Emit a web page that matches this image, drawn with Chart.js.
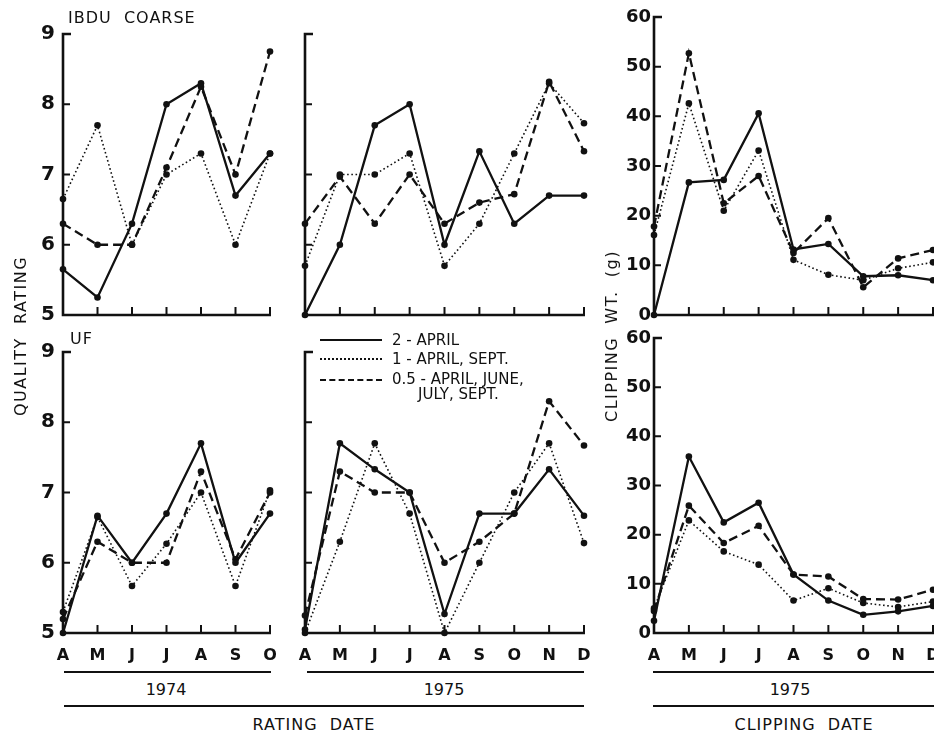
<!DOCTYPE html>
<html>
<head>
<meta charset="utf-8">
<script src="https://cdn.jsdelivr.net/npm/chart.js@4/dist/chart.umd.min.js"></script>
<style>
  html, body { margin:0; padding:0; background:#fff; overflow:hidden; }
  body { width:934px; height:736px; position:relative; font-family:"DejaVu Sans", sans-serif; color:#111; }
  canvas { position:absolute; }
  .t { position:absolute; white-space:nowrap; color:#111; line-height:1; }
  .hl { position:absolute; height:2px; background:#111; }
  .rot { position:absolute; transform-origin:center center; transform:translate(-50%,-50%) rotate(-90deg); white-space:nowrap; line-height:1; letter-spacing:1.5px; font-size:16px; }
  .cen { transform:translate(-50%,-50%); }
  .lg { position:absolute; width:62px; height:0; }
</style>
</head>
<body>
<canvas id="p1"></canvas>
<canvas id="p2"></canvas>
<canvas id="p3"></canvas>
<canvas id="p4"></canvas>
<canvas id="p5"></canvas>
<canvas id="p6"></canvas>

<div class="t" style="left:68px;top:10px;font-size:16px;letter-spacing:1px;">IBDU&nbsp; COARSE</div>
<div class="t" style="left:70px;top:331px;font-size:16px;letter-spacing:1px;">UF</div>

<div class="rot" style="left:21px;top:336px;">QUALITY&nbsp;&nbsp;RATING</div>
<div class="rot" style="left:612px;top:336px;">CLIPPING&nbsp;&nbsp;WT.&nbsp;&nbsp;(g)</div>

<!-- legend -->
<div class="lg" style="left:320px;top:339px;border-top:2px solid #111;"></div>
<div class="lg" style="left:320px;top:358px;border-top:2px dotted #111;"></div>
<div class="lg" style="left:320px;top:379px;border-top:2px dashed #111;"></div>
<div class="t" style="left:392px;top:333px;font-size:15px;">2 - APRIL</div>
<div class="t" style="left:392px;top:352px;font-size:15px;">1 - APRIL, SEPT.</div>
<div class="t" style="left:392px;top:372px;font-size:15px;">0.5 - APRIL, JUNE,</div>
<div class="t" style="left:418px;top:387px;font-size:15px;">JULY, SEPT.</div>

<!-- bottom annotations -->
<div class="hl" style="left:64px;width:207px;top:671px;"></div>
<div class="hl" style="left:307px;width:277px;top:671px;"></div>
<div class="hl" style="left:653px;width:281px;top:671px;"></div>
<div class="t cen" style="left:166px;top:690px;font-size:16px;">1974</div>
<div class="t cen" style="left:444px;top:690px;font-size:16px;">1975</div>
<div class="t cen" style="left:790px;top:690px;font-size:16px;">1975</div>
<div class="hl" style="left:64px;width:520px;top:705px;"></div>
<div class="hl" style="left:653px;width:281px;top:705px;"></div>
<div class="t cen" style="left:314px;top:725px;font-size:16px;letter-spacing:1px;">RATING&nbsp; DATE</div>
<div class="t cen" style="left:804px;top:725px;font-size:16px;letter-spacing:1px;">CLIPPING&nbsp; DATE</div>

<script>
// ---- categories ----
const months74 = ['A','M','J','J','A','S','O'];
const months75 = ['A','M','J','J','A','S','O','N','D'];

// ---- IBDU coarse, quality rating, 1974 ----
const ibdu74_rate2  = [5.65, 5.25, 6.3, 8.0, 8.3, 6.7, 7.3];
const ibdu74_rate1  = [6.65, 7.7, 6.0, 7.0, 7.3, 6.0, 7.3];
const ibdu74_rate05 = [6.3, 6.0, 6.0, 7.1, 8.25, 7.0, 8.75];

// ---- IBDU coarse, quality rating, 1975 ----
const ibdu75_rate2  = [5.0, 6.0, 7.7, 8.0, 6.0, 7.33, 6.3, 6.7, 6.7];
const ibdu75_rate1  = [5.7, 7.0, 7.0, 7.3, 5.7, 6.3, 7.3, 8.3, 7.73];
const ibdu75_rate05 = [6.3, 6.97, 6.3, 7.0, 6.3, 6.6, 6.72, 8.32, 7.33];

// ---- UF, quality rating, 1974 ----
const uf74_rate2  = [5.0, 6.67, 6.0, 6.7, 7.7, 6.0, 6.7];
const uf74_rate1  = [5.3, 6.65, 5.67, 6.27, 7.0, 5.67, 7.03];
const uf74_rate05 = [5.2, 6.3, 6.0, 6.0, 7.3, 6.05, 7.0];

// ---- UF, quality rating, 1975 ----
const uf75_rate2  = [5.05, 7.7, 7.33, 7.0, 5.27, 6.7, 6.7, 7.33, 6.67];
const uf75_rate1  = [5.0, 6.3, 7.7, 6.7, 5.0, 6.0, 7.0, 7.7, 6.28];
const uf75_rate05 = [5.25, 7.3, 7.0, 7.0, 6.0, 6.3, 6.7, 8.3, 7.67];

// ---- IBDU coarse, clipping wt (g), 1975 ----
const ibdu_clip2  = [0, 26.7, 27.2, 40.6, 13.2, 14.3, 7.8, 8.0, 7.0];
const ibdu_clip1  = [16.1, 42.6, 21.0, 33.1, 11.1, 8.1, 7.0, 9.4, 10.6];
const ibdu_clip05 = [17.8, 52.7, 22.5, 28.0, 12.5, 19.5, 5.6, 11.4, 13.1];

// ---- UF, clipping wt (g), 1975 ----
const uf_clip2  = [2.5, 35.9, 22.5, 26.5, 11.9, 6.6, 3.7, 4.4, 5.5];
const uf_clip1  = [5.0, 22.9, 16.6, 13.9, 6.6, 9.1, 6.1, 5.3, 6.4];
const uf_clip05 = [4.5, 25.9, 18.3, 21.8, 11.9, 11.5, 6.9, 6.8, 8.8];

const INK = '#111';
Chart.defaults.font.family = '"DejaVu Sans", sans-serif';
Chart.defaults.color = INK;

function series(d2, d1, d05) {
  const base = { borderColor: INK, pointBackgroundColor: INK, pointBorderColor: INK,
                 pointBorderWidth: 0, pointRadius: 3.3, tension: 0, clip: false, fill: false };
  return [
    Object.assign({}, base, { label: '2 - APRIL', data: d2, borderWidth: 2.3 }),
    Object.assign({}, base, { label: '1 - APRIL, SEPT.', data: d1, borderWidth: 1.6, borderDash: [1.6, 2.6] }),
    Object.assign({}, base, { label: '0.5 - APRIL, JUNE, JULY, SEPT.', data: d05, borderWidth: 2.3, borderDash: [9, 5] })
  ];
}

const axesPlugin = {
  id: 'inkAxes',
  beforeDatasetsDraw(chart) {
    const { ctx, chartArea: a, scales: { x, y } } = chart;
    ctx.save();
    ctx.strokeStyle = INK;
    ctx.lineWidth = 2.6;
    ctx.lineCap = 'butt';
    ctx.lineJoin = 'miter';
    ctx.beginPath();
    ctx.moveTo(a.left + 8, a.top);
    ctx.lineTo(a.left, a.top);
    ctx.lineTo(a.left, a.bottom);
    ctx.lineTo(a.right + 1, a.bottom);
    ctx.stroke();
    ctx.lineWidth = 2;
    ctx.beginPath();
    x.ticks.forEach((t, i) => {
      if (i === 0) return;
      const px = x.getPixelForTick(i);
      ctx.moveTo(px, a.bottom);
      ctx.lineTo(px, a.bottom - 8);
    });
    y.ticks.forEach(t => {
      if (t.value > y.min && t.value < y.max) {
        const py = y.getPixelForValue(t.value);
        ctx.moveTo(a.left, py);
        ctx.lineTo(a.left + 7, py);
      }
    });
    ctx.stroke();
    ctx.restore();
  }
};

function panel(id, box, labels, datasets, yMin, yMax, step, yLabels, xLabels, yFont, yPad) {
  const cv = document.getElementById(id);
  cv.width = box.W; cv.height = box.H;
  cv.style.left = box.L + 'px'; cv.style.top = box.T + 'px';
  cv.style.width = box.W + 'px'; cv.style.height = box.H + 'px';
  new Chart(cv, {
    type: 'line',
    data: { labels: labels, datasets: datasets },
    options: {
      responsive: false, animation: false, devicePixelRatio: 1,
      layout: { padding: { top: box.pt, right: box.pr, left: 0, bottom: 0 } },
      plugins: { legend: { display: false }, tooltip: { enabled: false } },
      scales: {
        x: {
          type: 'category', offset: false,
          grid: { display: false, drawTicks: false },
          border: { display: false },
          ticks: { display: xLabels, autoSkip: false, maxRotation: 0, padding: 13,
                   font: { size: 16, weight: 'bold' }, color: INK },
          afterFit(s) { s.height = box.Hx; s.paddingLeft = 0; s.paddingRight = 0; }
        },
        y: {
          min: yMin, max: yMax,
          grid: { display: false, drawTicks: false },
          border: { display: false },
          ticks: { display: yLabels, stepSize: step, padding: yPad, font: { size: yFont, weight: 'bold' }, color: INK },
          afterFit(s) { s.width = box.Wy; s.paddingTop = 0; s.paddingBottom = 0; }
        }
      }
    },
    plugins: [axesPlugin]
  });
}

// top row
panel('p1', { L: 0,   T: 0,   W: 280, H: 323, pt: 34, pr: 10, Wy: 63, Hx: 8 },
      months74, series(ibdu74_rate2, ibdu74_rate1, ibdu74_rate05), 5, 9, 1, true, false, 20, 8);
panel('p2', { L: 290, T: 0,   W: 304, H: 323, pt: 34, pr: 10, Wy: 15, Hx: 8 },
      months75, series(ibdu75_rate2, ibdu75_rate1, ibdu75_rate05), 5, 9, 1, false, false, 20, 8);
panel('p3', { L: 600, T: 0,   W: 343, H: 320, pt: 17, pr: 10, Wy: 54, Hx: 5 },
      months75, series(ibdu_clip2, ibdu_clip1, ibdu_clip05), 0, 60, 10, true, false, 18, 3);
// bottom row
panel('p4', { L: 0,   T: 330, W: 280, H: 338, pt: 22, pr: 10, Wy: 63, Hx: 35 },
      months74, series(uf74_rate2, uf74_rate1, uf74_rate05), 5, 9, 1, true, true, 20, 8);
panel('p5', { L: 290, T: 330, W: 304, H: 338, pt: 22, pr: 10, Wy: 15, Hx: 35 },
      months75, series(uf75_rate2, uf75_rate1, uf75_rate05), 5, 9, 1, false, true, 20, 8);
panel('p6', { L: 600, T: 320, W: 343, H: 348, pt: 18, pr: 10, Wy: 54, Hx: 35 },
      months75, series(uf_clip2, uf_clip1, uf_clip05), 0, 60, 10, true, true, 18, 3);
</script>
</body>
</html>
